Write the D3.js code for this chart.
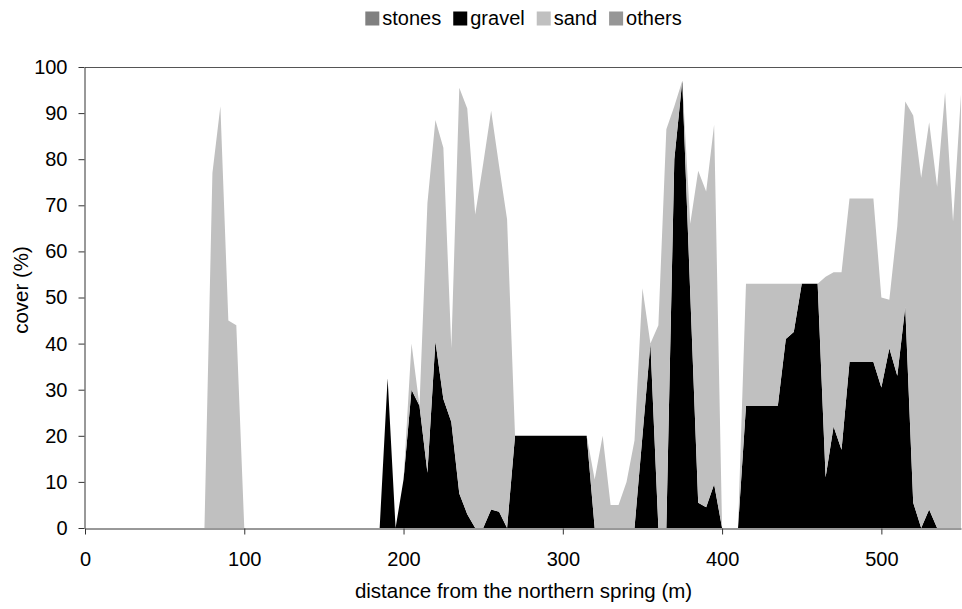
<!DOCTYPE html>
<html>
<head>
<meta charset="utf-8">
<script src="https://cdn.jsdelivr.net/npm/d3@7"></script>
<style>
body { margin: 0; background: #fff; }
svg { font-family: "Liberation Sans", Arial, sans-serif; }
</style>
</head>
<body>
<script>
var distance = [0, 5, 10, 15, 20, 25, 30, 35, 40, 45, 50, 55, 60, 65, 70, 75, 80, 85, 90, 95,
    100, 105, 110, 115, 120, 125, 130, 135, 140, 145, 150, 155, 160, 165, 170, 175, 180, 185, 190, 195,
    200, 205, 210, 215, 220, 225, 230, 235, 240, 245, 250, 255, 260, 265, 270, 275, 280, 285, 290, 295,
    300, 305, 310, 315, 320, 325, 330, 335, 340, 345, 350, 355, 360, 365, 370, 375, 380, 385, 390, 395,
    400, 405, 410, 415, 420, 425, 430, 435, 440, 445, 450, 455, 460, 465, 470, 475, 480, 485, 490, 495,
    500, 505, 510, 515, 520, 525, 530, 535, 540, 545, 550];

var gravel = [0, 0, 0, 0, 0, 0, 0, 0, 0, 0, 0, 0, 0, 0, 0, 0, 0, 0, 0, 0,
    0, 0, 0, 0, 0, 0, 0, 0, 0, 0, 0, 0, 0, 0, 0, 0, 0, 0, 32.5, 0,
    10.5, 30, 26.5, 12, 40.5, 28, 23, 7.5, 3, 0, 0, 4, 3.5, 0, 20, 20, 20, 20, 20, 20,
    20, 20, 20, 20, 0, 0, 0, 0, 0, 0, 20, 40, 0, 0, 80, 97, 51, 5.5, 4.5, 9.5,
    0, 0, 0, 26.5, 26.5, 26.5, 26.5, 26.5, 41, 42.5, 53, 53, 53, 11, 22, 17, 36, 36, 36, 36,
    30.5, 39, 33, 48, 5.5, 0, 4, 0, 0, 0, 0];

var sand = [0, 0, 0, 0, 0, 0, 0, 0, 0, 0, 0, 0, 0, 0, 0, 0, 77, 91.5, 45, 44,
    0, 0, 0, 0, 0, 0, 0, 0, 0, 0, 0, 0, 0, 0, 0, 0, 0, 0, 0, 0,
    0, 10, 0, 58.5, 48, 54.5, 16, 88, 88, 68, 79, 86.5, 75, 67, 0, 0, 0, 0, 0, 0,
    0, 0, 0, 0, 10.5, 20, 5, 5, 10, 19, 32, 0, 44, 86.5, 11.5, 0, 15, 72, 68.5, 78,
    0, 0, 0, 26.5, 26.5, 26.5, 26.5, 26.5, 12, 10.5, 0, 0, 0, 43.5, 33.5, 38.5, 35.5, 35.5, 35.5, 35.5,
    19.5, 10.5, 32.5, 44.5, 84, 76, 84, 74, 94.5, 66.5, 94];

var seriesNames = ["stones", "gravel", "sand", "others"];
var seriesColors = ["#808080", "#000000", "#c0c0c0", "#969696"];
var xTicks = [0, 100, 200, 300, 400, 500];
var yTicks = [0, 10, 20, 30, 40, 50, 60, 70, 80, 90, 100];

// stacked area chart, same stacking order as the legend
function drawChart() {
    var width = 962;
    var height = 609;
    var fontSize = "20px";

    var svg = d3.select("body")
        .append("svg")
        .attr("width", width)
        .attr("height", height);

    var x = d3.scaleLinear().domain([0, 550]).range([85, 961]);
    var y = d3.scaleLinear().domain([0, 100]).range([528, 67]);

    var rows = distance.map(function (d, i) {
        return { distance: d, stones: 0, gravel: gravel[i], sand: sand[i], others: 0 };
    });

    var layers = d3.stack().keys(seriesNames)(rows);

    var area = d3.area()
        .x(function (d) { return x(d.data.distance); })
        .y0(function (d) { return y(d[0]); })
        .y1(function (d) { return y(d[1]); });

    svg.selectAll(".layer")
        .data(layers)
        .enter()
        .append("path")
        .attr("class", "layer")
        .attr("d", area)
        .attr("fill", function (d, i) { return seriesColors[i]; });

    // top border of the plot area
    svg.append("line")
        .attr("x1", x(0)).attr("x2", width)
        .attr("y1", y(100) + 0.5).attr("y2", y(100) + 0.5)
        .attr("stroke", "#555")
        .attr("stroke-width", 1);

    var xAxis = svg.append("g")
        .attr("transform", "translate(0," + (y(0) + 0.5) + ")")
        .call(d3.axisBottom(x).tickValues(xTicks).tickSize(6).tickSizeOuter(0).tickPadding(17));

    var yAxis = svg.append("g")
        .attr("transform", "translate(" + (x(0) - 0.5) + ",0)")
        .call(d3.axisLeft(y).tickValues(yTicks).tickSize(6).tickSizeOuter(0).tickPadding(11));

    [xAxis, yAxis].forEach(function (g) {
        g.selectAll("text").style("font-size", fontSize).attr("fill", "#000").style("font-family", "'Liberation Sans', Arial, sans-serif");
        g.selectAll("line").attr("stroke", "#333");
        g.select(".domain").attr("stroke", "#333");
    });

    svg.append("text")
        .attr("x", (x(0) + width) / 2)
        .attr("y", 598)
        .attr("text-anchor", "middle")
        .style("font-size", "20.5px")
        .text("distance from the northern spring (m)");

    svg.append("text")
        .attr("transform", "translate(28,290) rotate(-90)")
        .attr("text-anchor", "middle")
        .style("font-size", "20.5px")
        .text("cover (%)");

    // legend on top, centered over the plot
    var legend = svg.append("g");
    var offset = 0;
    seriesNames.forEach(function (name, i) {
        var item = legend.append("g").attr("transform", "translate(" + offset + ",0)");
        item.append("rect")
            .attr("x", 0).attr("y", 11.5)
            .attr("width", 14).attr("height", 14)
            .attr("fill", seriesColors[i]);
        var label = item.append("text")
            .attr("x", 17)
            .attr("y", 25)
            .style("font-size", fontSize)
            .text(name);
        offset += 17 + label.node().getComputedTextLength() + 12;
    });
    offset -= 12;
    legend.attr("transform", "translate(" + ((x(0) + width) / 2 - offset / 2) + ",0)");
}

drawChart();
</script>
</body>
</html>
